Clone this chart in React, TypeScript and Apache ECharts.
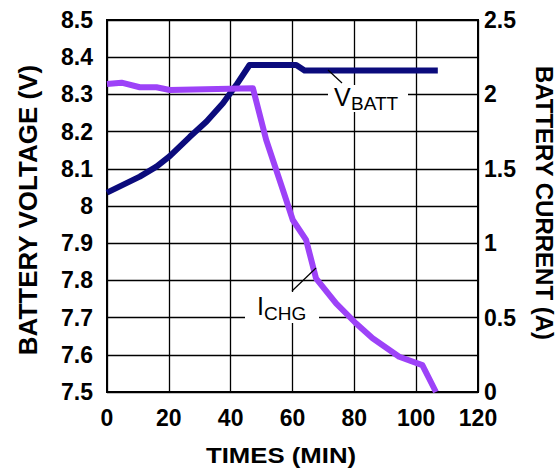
import React, { useEffect, useRef } from "react";
import * as echarts from "echarts";

// Battery voltage (left axis, V) vs time (min)
const timeV = [0, 10.6, 16, 20.3, 26.8, 32.2, 37.5, 41.8, 46.1, 61.2, 63.9, 107];
const voltage = [8.036, 8.079, 8.106, 8.134, 8.186, 8.227, 8.276, 8.325, 8.379, 8.379, 8.364, 8.364];

// Charge current (right axis, A) vs time (min)
const timeI = [0, 4.7, 10.6, 16, 20.3, 47.2, 50.4, 51.5, 56.9, 60.1, 64.4, 67.6, 74.1, 80.5, 85.9, 94.5, 102, 106.4];
const current = [2.07, 2.079, 2.048, 2.048, 2.03, 2.041, 1.783, 1.694, 1.358, 1.156, 1.022, 0.764, 0.596, 0.462, 0.361, 0.237, 0.181, 0];

const xTitle = "TIMES (MIN)";
const yLeftTitle = "BATTERY VOLTAGE (V)";
const yRightTitle = "BATTERY CURRENT (A)";

const FONT = "'Liberation Sans', Arial, sans-serif";

export default function App() {
  const ref = useRef<HTMLDivElement>(null);

  useEffect(() => {
    if (!ref.current) return;
    const chart = echarts.init(ref.current, undefined, { renderer: "svg" });

    const labelStyle = { color: "#000", fontFamily: FONT, fontWeight: "bold" as const, fontSize: 23 };
    const nameStyle = { fontFamily: FONT, fontWeight: "bold" as const, fill: "#000", align: "center" as const, verticalAlign: "middle" as const };

    chart.setOption({
      animation: false,
      backgroundColor: "#fff",
      grid: {
        left: 107,
        right: 81,
        top: 20,
        bottom: 76,
        show: true,
        borderColor: "#000",
        borderWidth: 2,
        backgroundColor: "transparent",
      },
      xAxis: {
        type: "value",
        min: 0,
        max: 120,
        interval: 20,
        axisLine: { show: true, lineStyle: { color: "#000", width: 2 } },
        axisTick: { show: false },
        axisLabel: { ...labelStyle, margin: 14 },
        splitLine: { show: true, lineStyle: { color: "#000", width: 1.3 } },
      },
      yAxis: [
        {
          type: "value",
          min: 7.5,
          max: 8.5,
          interval: 0.1,
          axisLine: { show: true, lineStyle: { color: "#000", width: 2 } },
          axisTick: { show: false },
          axisLabel: { ...labelStyle, margin: 14 },
          splitLine: { show: true, lineStyle: { color: "#000", width: 1.3 } },
        },
        {
          type: "value",
          min: 0,
          max: 2.5,
          interval: 0.5,
          position: "right",
          axisLine: { show: true, lineStyle: { color: "#000", width: 2 } },
          axisTick: { show: false },
          axisLabel: { ...labelStyle, margin: 6 },
          splitLine: { show: false },
        },
      ],
      series: [
        {
          name: "VBATT",
          type: "line",
          yAxisIndex: 0,
          data: timeV.map((t, i) => [t, voltage[i]]),
          showSymbol: false,
          clip: false,
          z: 3,
          lineStyle: { color: "#0b0b7c", width: 6, join: "round" },
        },
        {
          name: "ICHG",
          type: "line",
          yAxisIndex: 1,
          data: timeI.map((t, i) => [t, current[i]]),
          showSymbol: false,
          clip: false,
          z: 4,
          lineStyle: { color: "#9d42f8", width: 6, join: "round" },
        },
      ],
      graphic: [
        // axis titles
        { type: "text", z: 5, x: 281, y: 455, scaleX: 1.12, style: { ...nameStyle, text: xTitle, fontSize: 23 } },
        { type: "text", z: 5, x: 28, y: 210, rotation: Math.PI / 2, style: { ...nameStyle, text: yLeftTitle, fontSize: 26 } },
        { type: "text", z: 5, x: 544, y: 203, rotation: -Math.PI / 2, style: { ...nameStyle, text: yRightTitle, fontSize: 24 } },
        // VBATT annotation
        { type: "rect", z: 1, shape: { x: 328, y: 85, width: 80, height: 27 }, style: { fill: "#fff" } },
        { type: "line", z: 5, shape: { x1: 328, y1: 70, x2: 342, y2: 83 }, style: { stroke: "#000", lineWidth: 1.2 } },
        {
          type: "text", z: 5, x: 334, y: 97,
          style: { text: "V", fontFamily: FONT, fontSize: 25, fill: "#000", verticalAlign: "middle", align: "left" },
        },
        {
          type: "text", z: 5, x: 351, y: 103.5,
          style: { text: "BATT", fontFamily: FONT, fontSize: 19, fill: "#000", verticalAlign: "middle", align: "left" },
        },
        // ICHG annotation
        { type: "rect", z: 1, shape: { x: 245, y: 292, width: 74, height: 31 }, style: { fill: "#fff" } },
        { type: "line", z: 5, shape: { x1: 292, y1: 291, x2: 316, y2: 268 }, style: { stroke: "#000", lineWidth: 1.2 } },
        {
          type: "text", z: 5, x: 257, y: 306,
          style: { text: "I", fontFamily: FONT, fontSize: 25, fill: "#000", verticalAlign: "middle", align: "left" },
        },
        {
          type: "text", z: 5, x: 264, y: 313,
          style: { text: "CHG", fontFamily: FONT, fontSize: 19, fill: "#000", verticalAlign: "middle", align: "left" },
        },
      ],
    });

    return () => chart.dispose();
  }, []);

  return (
    <div
      ref={ref}
      style={{ position: "absolute", left: 0, top: 0, width: 559, height: 468 }}
    />
  );
}
